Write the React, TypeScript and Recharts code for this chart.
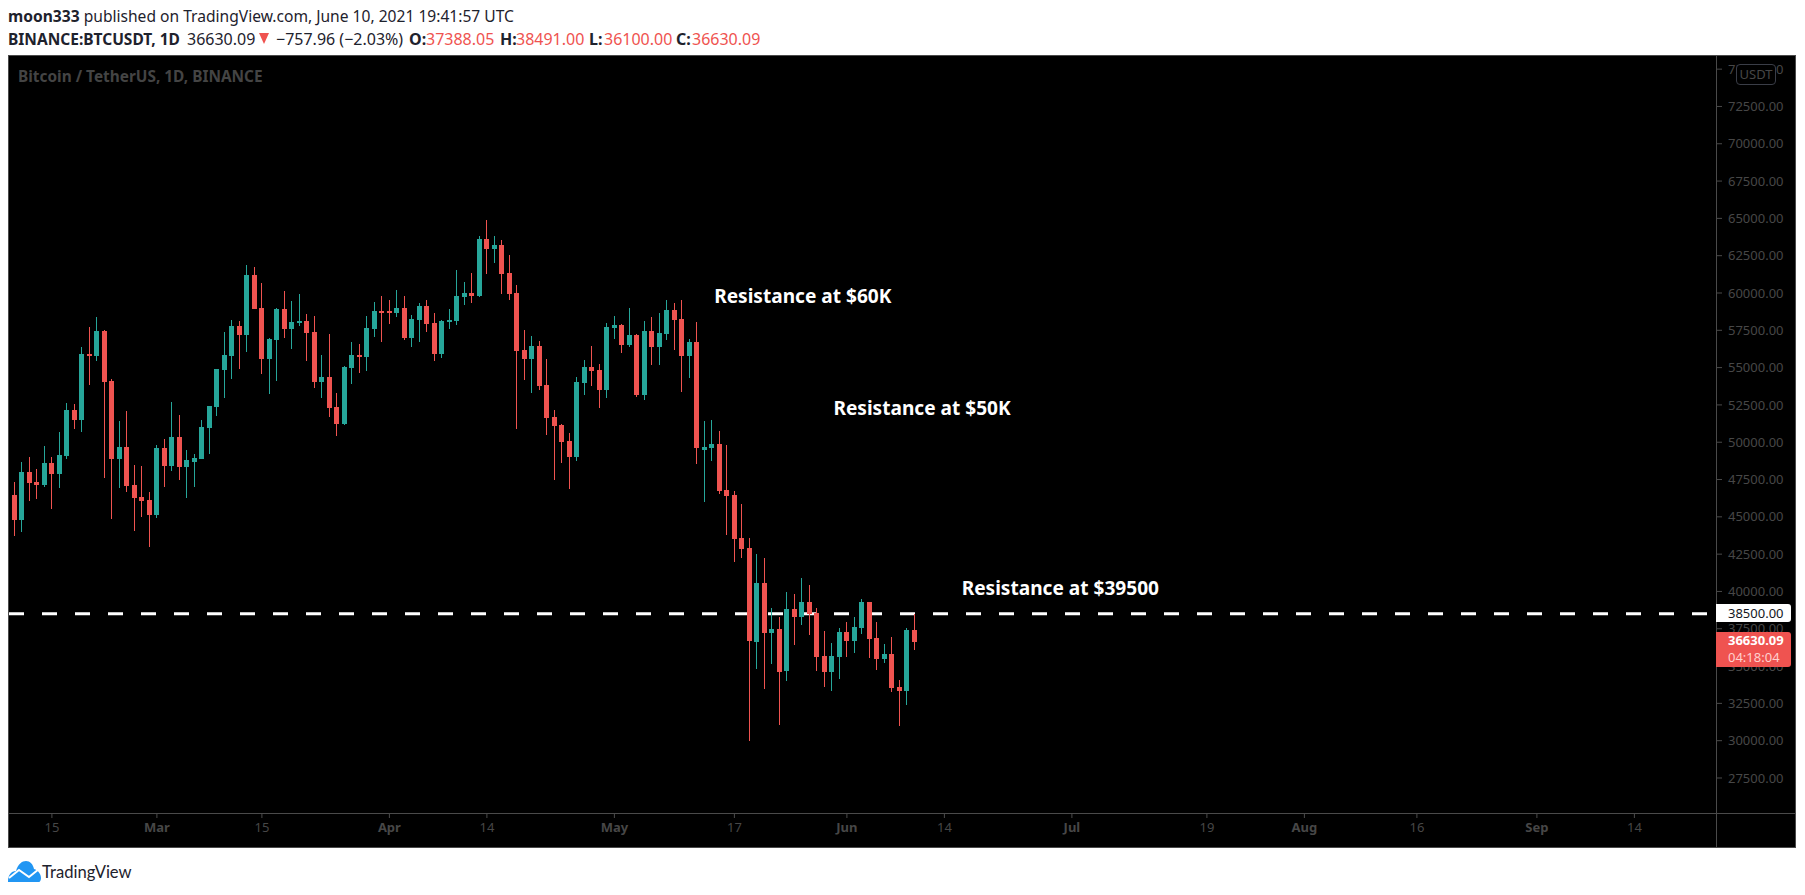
import React from 'react';
import { Bar, ComposedChart, ReferenceLine, XAxis, YAxis } from 'recharts';

// daily BTCUSDT candles, first one is Feb 10 2021, last one Jun 10 2021
const opens = [
  46470, 44790, 48010, 47340, 47140, 48610, 47870, 49080, 52160, 51490,
  55910, 55780, 57450, 54100, 48880, 49680, 47140, 46330, 46130, 45130,
  49610, 48410, 50350, 48340, 48680, 48880, 50950, 52360, 54840, 55780,
  57790, 57190, 61210, 59000, 55580, 56850, 58930, 57590, 57990, 58120,
  57390, 54040, 54370, 52360, 51220, 54970, 55850, 55710, 57590, 58790,
  58790, 58660, 59000, 56990, 58190, 59130, 57990, 55910, 58060, 58120,
  59730, 60000, 59800, 63620, 62950, 63220, 61340, 60000, 56180, 55580,
  56450, 53840, 51690, 51160, 50080, 49010, 53970, 55040, 54840, 53500,
  57650, 57860, 56520, 57190, 53170, 57450, 56380, 57250, 58860, 58260,
  55780, 56720, 49480, 49620, 49880, 46800, 46470, 43590, 42920, 36620,
  40570, 37220, 37490, 34680, 38830, 38290, 39300, 38560, 35680, 34610,
  35610, 37290, 36690, 37560, 39300, 36890, 35480, 35810, 33610, 33340, 37388,
];
const highs = [
  47340, 48680, 49010, 48210, 49750, 49010, 50690, 52630, 52560, 56380,
  57720, 58390, 57520, 54240, 51420, 52090, 48480, 48410, 46670, 49820,
  50220, 52700, 51830, 49480, 49210, 51490, 52430, 54910, 57390, 58190,
  58120, 61880, 61740, 60670, 56990, 59000, 60130, 59460, 59930, 58590,
  58460, 55850, 57250, 53300, 55110, 56720, 56580, 58460, 59400, 59800,
  59530, 60200, 59800, 58530, 59330, 59530, 58660, 58190, 58930, 61540,
  60740, 61340, 63820, 64890, 63820, 63550, 62550, 60540, 57520, 57120,
  56780, 55580, 52160, 51220, 50620, 54370, 55510, 56450, 55240, 57990,
  58460, 57920, 59000, 57250, 58120, 58390, 58660, 59530, 59330, 59530,
  56920, 58060, 51420, 51490, 50760, 49820, 46740, 45860, 43590, 42510,
  42250, 38900, 38290, 39970, 39830, 40910, 40440, 38900, 37360, 36550,
  37560, 37960, 38290, 39500, 39300, 37960, 36490, 36950, 34070, 37560, 38491,
];
const lows = [
  43720, 43990, 46060, 46200, 47000, 45530, 46930, 48880, 50890, 50690,
  53840, 55440, 47610, 44860, 46930, 46670, 44050, 44990, 42980, 44920,
  47000, 48070, 47470, 46270, 47000, 48880, 49210, 51760, 52970, 54240,
  54910, 56050, 58930, 54570, 53230, 54100, 56990, 56250, 57790, 55440,
  53640, 52970, 51690, 50420, 51160, 53900, 54640, 54770, 57050, 56720,
  57920, 58390, 56850, 56380, 56720, 57390, 55440, 55650, 57590, 57860,
  59200, 59330, 59730, 61270, 62010, 59930, 59530, 50890, 54170, 53300,
  53500, 50490, 47470, 48610, 46870, 48740, 53170, 53770, 52300, 52970,
  56920, 55980, 56380, 53030, 52830, 55180, 55180, 56850, 56180, 53370,
  54310, 48540, 45990, 48750, 46540, 43790, 41980, 42250, 29990, 34810,
  33470, 35150, 31060, 34010, 36420, 37760, 37090, 34680, 33610, 33340,
  34140, 35610, 35880, 37160, 35550, 34740, 35210, 33270, 30990, 32400, 36100,
];
const closes = [
  44790, 48010, 47270, 47140, 48610, 47870, 49150, 52160, 51490, 55910,
  55780, 57450, 54040, 48880, 49680, 47070, 46270, 46060, 45130, 49610,
  48410, 50350, 48340, 48810, 48940, 51020, 52430, 54910, 55850, 57790,
  57190, 61210, 58930, 55580, 56920, 58930, 57590, 58060, 58120, 57320,
  54040, 54370, 52300, 51220, 55040, 55850, 55710, 57650, 58790, 58730,
  58660, 59000, 56990, 58260, 59130, 57920, 55910, 58120, 58190, 59800,
  60000, 59800, 63620, 62950, 63220, 61270, 59930, 56110, 55580, 56450,
  53770, 51630, 51090, 50020, 49010, 54040, 55040, 54770, 53500, 57720,
  57860, 56520, 57190, 53170, 57450, 56380, 57320, 58860, 58190, 55780,
  56720, 49620, 49680, 49880, 46740, 46400, 43520, 42850, 36690, 40570,
  37220, 37490, 34610, 38830, 38290, 39300, 38490, 35610, 34610, 35680,
  37290, 36690, 37620, 39300, 36820, 35480, 35810, 33540, 33340, 37420, 36630,
];

const priceTicks = [
  27500, 30000, 32500, 35000, 37500, 40000, 42500, 45000, 47500, 50000, 52500, 55000,
  57500, 60000, 62500, 65000, 67500, 70000, 72500, 75000,
];
const dayTicks = [5, 19, 33, 50, 63, 80, 96, 111, 124, 141, 159, 172, 187, 203, 216];
const dayLabels = ['15', 'Mar', '15', 'Apr', '14', 'May', '17', 'Jun', '14', 'Jul', '19', 'Aug', '16', 'Sep', '14'];

const notes = [
  { text: 'Resistance at $60K', day: 93.3, price: 59730 },
  { text: 'Resistance at $50K', day: 109.2, price: 52240 },
  { text: 'Resistance at $39500', day: 126.3, price: 40140 },
];

const GREEN = '#26a69a';
const RED = '#ef5350';
const GREY = '#4a4a4a';
const TICK_GREY = '#474747';
const INK = '#1e222d';
const FONT = '"Noto Sans", sans-serif';

const candles = opens.map((open, i) => ({
  day: i,
  open,
  close: closes[i],
  high: highs[i],
  low: lows[i],
  range: [lows[i], highs[i]],
}));

// one Bar per candle spanning low..high, the body is placed by the same scale
const Candle = (props: any) => {
  const { x, y, width, height, payload } = props;
  const { open, close, high, low } = payload;
  const color = close >= open ? GREEN : RED;
  const perUnit = height / (high - low);
  const cx = Math.floor(x + width / 2);
  const top = Math.round(y + (high - Math.max(open, close)) * perUnit);
  const bottom = Math.round(y + (high - Math.min(open, close)) * perUnit);
  return (
    <g shapeRendering="crispEdges">
      <rect x={cx} y={Math.round(y)} width={1} height={Math.round(height)} fill={color} />
      <rect x={cx - 2} y={top} width={5} height={Math.max(bottom - top, 2)} fill={color} />
    </g>
  );
};

const DayTick = (props: any) => {
  const { x, y, payload } = props;
  const label = dayLabels[dayTicks.indexOf(payload.value)];
  const isMonth = isNaN(Number(label));
  return (
    <text x={x} y={y} dy={12} textAnchor="middle" fontSize={13} fontFamily={FONT} fill={TICK_GREY} fontWeight={isMonth ? 700 : 400}>
      {label}
    </text>
  );
};

const Note = (props: any) => {
  const { viewBox, value } = props;
  return (
    <text x={viewBox.x} y={viewBox.y} dy={6} fontSize={19.1} fontWeight={700} fontFamily={FONT} fill="#ffffff">
      {value}
    </text>
  );
};

const abs = (left: number, top: number, extra: React.CSSProperties = {}): React.CSSProperties => ({
  position: 'absolute',
  left,
  top,
  ...extra,
});

const Quote = ({ left, color = INK, bold = false, size = 16, children }: any) => (
  <span style={abs(left, 28, { fontSize: size, lineHeight: '22px', color, fontWeight: bold ? 700 : 400, whiteSpace: 'nowrap' })}>{children}</span>
);

export default function App() {
  return (
    <div style={abs(0, 0, { width: 1805, height: 895, background: '#ffffff', overflow: 'hidden', fontFamily: FONT })}>
      <div style={abs(8, 6, { fontSize: 15.6, color: INK, whiteSpace: 'nowrap', lineHeight: '21px' })}>
        <b>moon333</b> published on TradingView.com, June 10, 2021 19:41:57 UTC
      </div>
      <Quote left={8} bold size={15.5}>BINANCE:BTCUSDT, 1D</Quote>
      <Quote left={187}>36630.09</Quote>
      <div style={abs(259, 33, { width: 0, height: 0, borderLeft: '5px solid transparent', borderRight: '5px solid transparent', borderTop: `11px solid ${RED}` })} />
      <Quote left={276}>−757.96 (−2.03%)</Quote>
      <Quote left={409} bold>O:</Quote>
      <Quote left={426} color={RED}>37388.05</Quote>
      <Quote left={500} bold>H:</Quote>
      <Quote left={516} color={RED}>38491.00</Quote>
      <Quote left={589} bold>L:</Quote>
      <Quote left={604} color={RED}>36100.00</Quote>
      <Quote left={676} bold>C:</Quote>
      <Quote left={692} color={RED}>36630.09</Quote>

      <div style={abs(8, 55, { width: 1788, height: 793, background: '#000000', border: `1px solid ${GREY}`, boxSizing: 'border-box' })} />
      <div style={abs(8, 813, { width: 1788, height: 1, background: GREY })} />
      <div style={abs(1716, 55, { width: 1, height: 793, background: GREY })} />

      <div style={abs(0, 0)}>
        <ComposedChart width={1805} height={895} data={candles} margin={{ top: 55, right: 9, bottom: 47, left: 9 }}>
          <XAxis
            dataKey="day"
            type="number"
            domain={[-0.72, 226.88]}
            allowDataOverflow
            ticks={dayTicks}
            interval={0}
            height={35}
            axisLine={false}
            tickSize={5}
            tickLine={{ stroke: GREY }}
            tick={<DayTick />}
          />
          <YAxis
            orientation="right"
            domain={[25154, 75948]}
            allowDataOverflow
            ticks={priceTicks}
            interval={0}
            width={80}
            axisLine={false}
            tickSize={6}
            tickMargin={6}
            tickLine={{ stroke: GREY }}
            tick={{ fontSize: 13, fontFamily: FONT, fill: TICK_GREY }}
            tickFormatter={(v: number) => v.toFixed(2)}
          />
          <ReferenceLine y={38500} stroke="#ffffff" strokeWidth={3} strokeDasharray="15 18" strokeDashoffset={24} zIndex={250} />
          <Bar dataKey="range" barSize={5} shape={<Candle />} isAnimationActive={false} />
          {notes.map((n) => (
            <ReferenceLine
              key={n.text}
              segment={[{ x: n.day, y: n.price }, { x: n.day, y: n.price }]}
              stroke="none"
              label={<Note value={n.text} />}
            />
          ))}
        </ComposedChart>
      </div>

      <div style={abs(1736, 64, { width: 40, height: 21, background: '#000000', border: '1px solid #3a3d47', borderRadius: 4, boxSizing: 'border-box', color: TICK_GREY, fontSize: 13, textAlign: 'center', lineHeight: '19px' })}>
        USDT
      </div>
      <div style={abs(1716, 604, { width: 75, height: 18, background: '#ffffff', borderRadius: '0 3px 3px 0', color: '#131722', fontSize: 13, lineHeight: '18px', paddingLeft: 12, boxSizing: 'border-box' })}>
        38500.00
      </div>
      <div style={abs(1716, 632, { width: 75, height: 35, background: RED, borderRadius: '0 3px 3px 0', color: '#ffffff', fontSize: 13, fontWeight: 700, lineHeight: '17px', paddingLeft: 12, boxSizing: 'border-box' })}>
        36630.09
        <div style={{ color: '#ffd0ce', fontWeight: 400 }}>04:18:04</div>
      </div>

      <svg style={abs(8, 861)} width={33} height={21} viewBox="0 0 33 21">
        <path d="M0 21 C0 14 3 10 8 10 C10 3 14 0 18 0 C22 0 25 3 26 8 C30 9 33 13 33 17 C33 19 32 21 31 21 Z" fill="#2196f3" />
        <path d="M1 17 L11 9 L21 16 L31 8" fill="none" stroke="#ffffff" strokeWidth={2} />
      </svg>
      <div style={abs(42, 861, { fontSize: 16.6, fontFamily: 'Lato, sans-serif', color: INK, lineHeight: '22px' })}>TradingView</div>
      <div style={abs(18, 66, { fontSize: 15.4, fontWeight: 700, color: '#444444', lineHeight: '22px', whiteSpace: 'nowrap' })}>
        Bitcoin / TetherUS, 1D, BINANCE
      </div>
    </div>
  );
}
